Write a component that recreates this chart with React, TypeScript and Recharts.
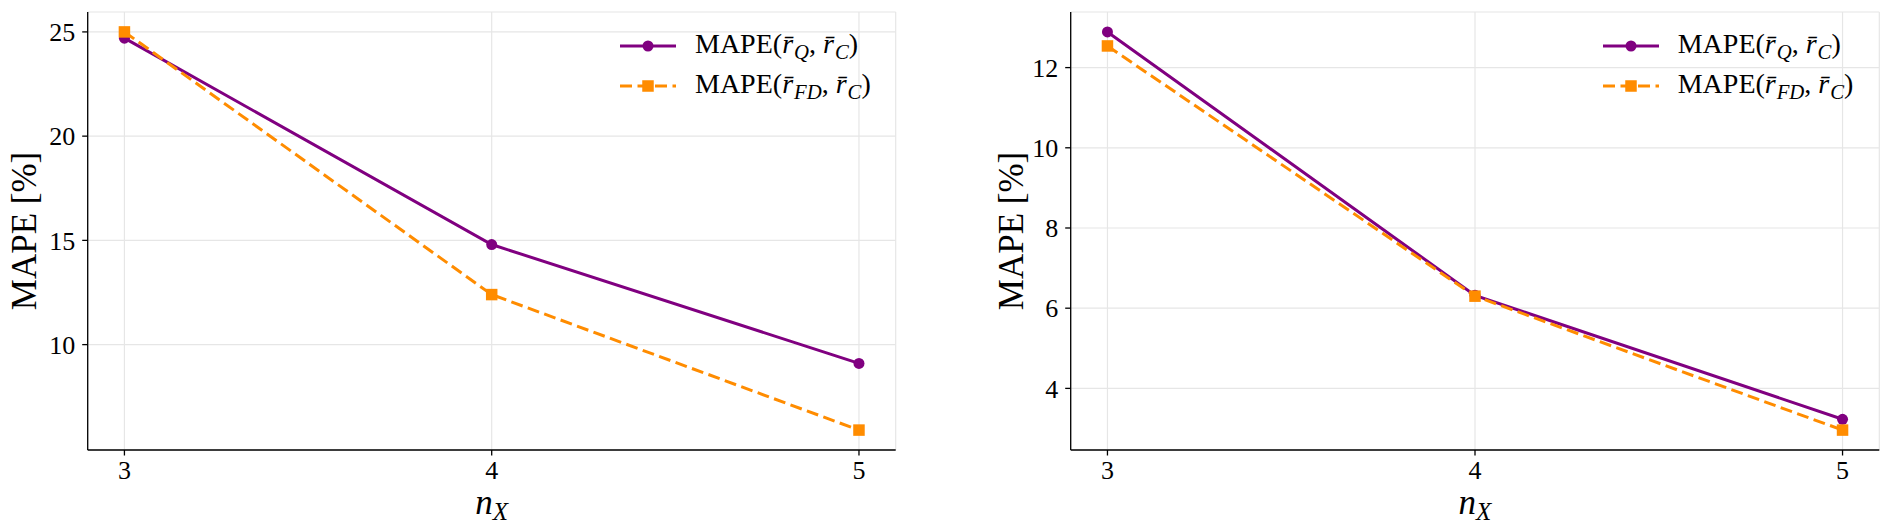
import React from 'react';
import { LineChart, Line, XAxis, YAxis, CartesianGrid, Legend } from 'recharts';

// Sweep over n_X
const nX = [3, 4, 5];

// Left panel: MAPE values [%]
const leftQ = [24.7, 14.8, 9.1];
const leftFD = [25.0, 12.4, 5.9];
const leftTicks = [10, 15, 20, 25];

// Right panel: MAPE values [%]
const rightQ = [12.89, 6.32, 3.23];
const rightFD = [12.54, 6.3, 2.96];
const rightTicks = [4, 6, 8, 10, 12];

const xTicks = [3, 4, 5];

const PURPLE = '#800080';
const ORANGE = '#ff8c00';
const GRID = '#e6e6e6';
const FONT = '"Liberation Serif", "DejaVu Serif", serif';
const DASH = '12 5.5';
const TICK_FONT = 26;
const LABEL_FONT = 35;

// 5% margin around the data range, on both axes
const padded = (vals: number[]): [number, number] => {
  const lo = Math.min(...vals);
  const hi = Math.max(...vals);
  const p = (hi - lo) * 0.05;
  return [lo - p, hi + p];
};

const SquareDot = (props: any) => {
  const { cx, cy, index } = props;
  if (cx == null || cy == null) return <g key={index} />;
  return <rect key={index} x={cx - 5.75} y={cy - 5.75} width={11.5} height={11.5} fill={ORANGE} />;
};

const Sub = ({ children }: { children: React.ReactNode }) => (
  <span style={{ fontSize: '0.74em', fontStyle: 'italic', position: 'relative', top: '0.3em', marginLeft: 1 }}>{children}</span>
);

const RBar = () => <span style={{ fontStyle: 'italic' }}>{'r\u0304'}</span>;

const LegendBox = () => (
  <div style={{ fontFamily: FONT, fontSize: 28, color: '#000', lineHeight: 1 }}>
    <div style={{ display: 'flex', alignItems: 'center', height: 40.3 }}>
      <svg width={56} height={40} style={{ display: 'block' }}>
        <line x1={0} y1={20} x2={56} y2={20} stroke={PURPLE} strokeWidth={3} />
        <circle cx={28} cy={20} r={5.5} fill={PURPLE} />
      </svg>
      <span style={{ marginLeft: 19, whiteSpace: 'nowrap', position: 'relative', top: -2 }}>
        MAPE(<RBar /><Sub>Q</Sub>, <RBar /><Sub>C</Sub>)
      </span>
    </div>
    <div style={{ display: 'flex', alignItems: 'center', height: 40.3 }}>
      <svg width={56} height={40} style={{ display: 'block' }}>
        <line x1={0} y1={20} x2={56} y2={20} stroke={ORANGE} strokeWidth={3} strokeDasharray={DASH} />
        <rect x={28 - 5.75} y={20 - 5.75} width={11.5} height={11.5} fill={ORANGE} />
      </svg>
      <span style={{ marginLeft: 19, whiteSpace: 'nowrap', position: 'relative', top: -2 }}>
        MAPE(<RBar /><Sub>FD</Sub>, <RBar /><Sub>C</Sub>)
      </span>
    </div>
  </div>
);

const XLabel = (props: any) => {
  const vb = props.viewBox || {};
  const cx = vb.x + vb.width / 2;
  return (
    <text x={cx} y={vb.y + 64} textAnchor="middle" fontFamily={FONT} fontSize={LABEL_FONT} fill="#000">
      <tspan fontStyle="italic">n</tspan>
      <tspan fontStyle="italic" fontSize={25} dy={6}>X</tspan>
    </text>
  );
};

const makeYLabel = (dx: number) => (props: any) => {
  const vb = props.viewBox || {};
  const px = vb.x + dx;
  const py = vb.y + vb.height / 2;
  return (
    <text
      x={px}
      y={py}
      transform={`rotate(-90, ${px}, ${py})`}
      textAnchor="middle"
      dominantBaseline="central"
      fontFamily={FONT}
      fontSize={LABEL_FONT}
      fill="#000"
    >
      MAPE [%]
    </text>
  );
};

interface PanelProps {
  q: number[];
  fd: number[];
  yTicks: number[];
  width: number;
  yAxisWidth: number;
  labelDx: number;
  marginRight: number;
  legendLeft: number;
}

const Panel = ({ q, fd, yTicks, width, yAxisWidth, labelDx, marginRight, legendLeft }: PanelProps) => {
  const data = nX.map((n, i) => ({ n, q: q[i], fd: fd[i] }));
  const yDomain = padded([...q, ...fd]);
  const xDomain = padded(nX);
  const axisStroke = { stroke: '#000', strokeWidth: 1.3 };
  return (
    <LineChart
      width={width}
      height={532}
      data={data}
      margin={{ top: 12, right: marginRight, bottom: 12, left: 0 }}
    >
      <CartesianGrid stroke={GRID} strokeWidth={1.2} />
      <XAxis
        dataKey="n"
        type="number"
        domain={xDomain}
        ticks={xTicks}
        allowDataOverflow
        height={70}
        axisLine={axisStroke}
        tickLine={axisStroke}
        tickSize={5.5}
        tickMargin={5}
        tick={{ fill: '#000', fontSize: TICK_FONT, fontFamily: FONT }}
        label={{ content: XLabel }}
      />
      <YAxis
        type="number"
        domain={yDomain}
        ticks={yTicks}
        allowDataOverflow
        width={yAxisWidth}
        axisLine={axisStroke}
        tickLine={axisStroke}
        tickSize={5.5}
        tickMargin={7}
        tick={{ fill: '#000', fontSize: TICK_FONT, fontFamily: FONT }}
        label={{ content: makeYLabel(labelDx) }}
      />
      <Legend
        layout="vertical"
        align="center"
        verticalAlign="middle"
        content={<LegendBox />}
        wrapperStyle={{ position: 'absolute', left: legendLeft, top: 25.5, width: 'auto', height: 'auto' }}
      />
      <Line
        dataKey="q"
        stroke={PURPLE}
        strokeWidth={3}
        dot={{ r: 5.5, fill: PURPLE, stroke: PURPLE, strokeWidth: 0 }}
        activeDot={false}
        isAnimationActive={false}
      />
      <Line
        dataKey="fd"
        stroke={ORANGE}
        strokeWidth={3}
        strokeDasharray={DASH}
        dot={SquareDot}
        activeDot={false}
        isAnimationActive={false}
      />
    </LineChart>
  );
};

export default function App() {
  return (
    <div style={{ position: 'absolute', left: 0, top: 0, width: 1891, height: 532, background: '#fff' }}>
      <div style={{ position: 'absolute', left: 0, top: 0 }}>
        <Panel
          q={leftQ}
          fd={leftFD}
          yTicks={leftTicks}
          width={950}
          yAxisWidth={87.7}
          labelDx={24}
          marginRight={54.3}
          legendLeft={620}
        />
      </div>
      <div style={{ position: 'absolute', left: 950, top: 0 }}>
        <Panel
          q={rightQ}
          fd={rightFD}
          yTicks={rightTicks}
          width={941}
          yAxisWidth={120.7}
          labelDx={61}
          marginRight={11.7}
          legendLeft={652.7}
        />
      </div>
    </div>
  );
}
